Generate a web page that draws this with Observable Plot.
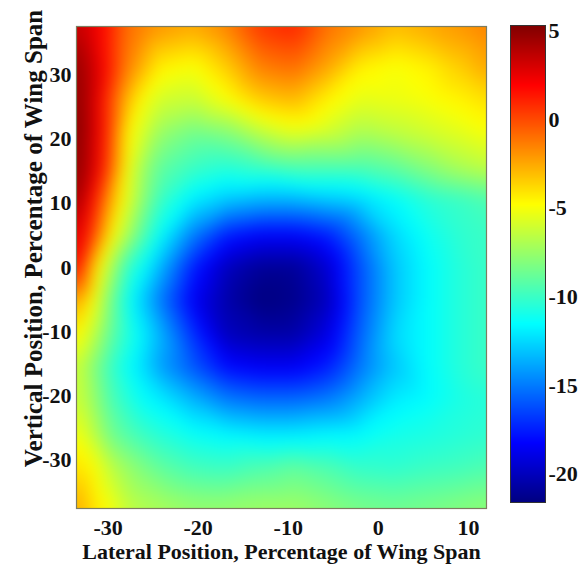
<!DOCTYPE html>
<html><head><meta charset="utf-8">
<script src="https://cdn.jsdelivr.net/npm/d3@7"></script>
<script src="https://cdn.jsdelivr.net/npm/@observablehq/plot@0.6"></script>
<style>
body{margin:0;background:#fff;}
#chart{position:relative;width:586px;height:574px;overflow:hidden;background:#fff;}
#main{position:absolute;left:0;top:0;}
#bar{position:absolute;left:486px;top:0;}
</style></head><body><div id="chart"><div id="main"></div><div id="bar"></div></div>
<script>
// sample positions
const xPos = [-33.5, -31.6, -29.7, -27.9, -26, -24.2, -20.5, -16.8, -13.1, -9.4, -5.7, -1.9, 1.8, 5.5, 9.2, 12];
const yPos = [37.5, 31, 26, 21, 15.5, 10.5, 5, 0, -5, -10.5, -15.5, -20.5, -26, -31, -37.5];
// values per row (top to bottom)
const rowY37 = [3.5, 2.5, 1, -1, -1.5, -2, -2.5, -1.5, 0.5, 1, -1, -2, -3, -2.5, -2, -1.5];
const rowY31 = [4.8, 3.2, 1, -1.5, -3, -4.5, -5, -3.5, -1.5, -1, -2.5, -4.5, -5, -4.5, -3.5, -2.5];
const rowY26 = [5, 3.2, 0, -3, -5, -6, -6.3, -5, -3.5, -3, -4.5, -5.5, -5.3, -5, -4.5, -4];
const rowY21 = [5.2, 3.2, 0, -4.5, -6, -7.5, -8.5, -8, -6.5, -5.5, -6, -7, -6.5, -6, -5.5, -5];
const rowY15 = [5, 3, -0.5, -5, -7.5, -9, -10, -10.5, -10, -9.5, -9.5, -9.5, -9, -8, -7, -6.5];
const rowY10 = [4.5, 1.5, -2.5, -5.5, -8, -10, -12, -13, -13.5, -13.5, -13, -12.5, -11.5, -10.5, -10, -9.5];
const rowY5 = [3, 0, -4.5, -7, -9.5, -11.5, -15, -17.5, -18.3, -18.3, -17.5, -15, -12.5, -11.2, -10.3, -10];
const rowY0 = [2, -3.5, -7, -10, -11.5, -13.5, -17.5, -20, -21, -21, -19.5, -16, -13, -11.5, -10.5, -10];
const rowYm5 = [-2, -5, -8.5, -11, -13, -15, -18.5, -20.5, -21.6, -21.3, -20, -16, -13, -11.5, -10.5, -10];
const rowYm10 = [-4.5, -6.5, -9, -10.5, -12, -13.5, -17, -20, -20.5, -20.5, -19, -15.5, -12.5, -11.5, -10.5, -10];
const rowYm15 = [-6, -8, -10, -11.3, -12.5, -14, -16, -18, -18.5, -18.5, -17.5, -15, -13, -11.5, -10.5, -10];
const rowYm20 = [-6, -7.5, -9.5, -10.5, -11.5, -12, -13.5, -15, -15.5, -15.5, -15, -13.5, -12, -11.5, -10.8, -10.5];
const rowYm26 = [-5, -6.5, -8.5, -9.3, -10, -10.5, -11.3, -11.7, -12, -12, -11.7, -11.5, -11, -10.8, -10.5, -10.3];
const rowYm31 = [-4, -4.8, -6.5, -7.5, -8.3, -9, -9.8, -10, -9.5, -9, -9.5, -10.2, -10.3, -10, -9.8, -9.5];
const rowYm37 = [-2.5, -4, -5, -6.3, -6.8, -7, -7.5, -7.5, -7.3, -7.3, -7.8, -8.3, -8.5, -8.3, -8, -7.8];
const rows = [rowY37, rowY31, rowY26, rowY21, rowY15, rowY10, rowY5, rowY0, rowYm5, rowYm10, rowYm15, rowYm20, rowYm26, rowYm31, rowYm37];

const xTicks = [-30, -20, -10, 0, 10];
const yTicks = [-30, -20, -10, 0, 10, 20, 30];
const barTicks = [-20, -15, -10, -5, 0, 5];
const colorMin = -21.6, colorMax = 5.3;
const jetColors = ["#000080", "#0000ff", "#00ffff", "#ffff00", "#ff0000", "#800000"];
const jetStops = [0, 0.125, 0.375, 0.625, 0.875, 1];
const xTitle = "Lateral Position, Percentage of Wing Span";
const yTitle = "Vertical Position, Percentage of Wing Span";

const points = rows.flatMap((r, i) => r.map((v, j) => ({x: xPos[j], y: yPos[i], v})));
const colorDomain = jetStops.map(t => colorMin + t * (colorMax - colorMin));
const font = "'Liberation Serif', 'Times New Roman', serif";
const colorOpts = {type: "linear", domain: colorDomain, range: jetColors, clamp: true};
const fmt = d => String(d);

const main = Plot.plot({
  width: 500, height: 574,
  marginLeft: 76, marginRight: 14, marginTop: 26, marginBottom: 66,
  style: {fontFamily: font, fontWeight: "bold", fontSize: "22px", background: "transparent", color: "#111"},
  x: {domain: [-33.5, 12], ticks: xTicks, tickFormat: fmt, tickSize: 0, tickPadding: 11, label: null},
  y: {domain: [-37.5, 37.5], ticks: yTicks, tickFormat: fmt, tickSize: 0, tickPadding: 5, label: null},
  color: colorOpts,
  marks: [
    Plot.raster(points, {x: "x", y: "y", fill: "v", interpolate: "barycentric", blur: 7}),
    Plot.frame({stroke: "#7d7d60", strokeWidth: 1.2}),
    Plot.text([xTitle], {text: d => d, frameAnchor: "bottom", textAnchor: "middle", dy: 50, fontSize: 22, fontWeight: "bold", fill: "#111"}),
    Plot.text([yTitle], {text: d => d, frameAnchor: "left", textAnchor: "middle", rotate: -90, dx: -43, dy: -29, fontSize: 25, fontWeight: "bold", fill: "#111"})
  ]
});
document.getElementById("main").appendChild(main);

const bar = Plot.plot({
  width: 100, height: 574,
  marginLeft: 24, marginRight: 41, marginTop: 25, marginBottom: 72,
  style: {fontFamily: font, fontWeight: "bold", fontSize: "22px", background: "transparent", color: "#111"},
  x: {domain: [0, 1], axis: null},
  y: {domain: [colorMin, colorMax], ticks: barTicks, tickFormat: fmt, tickSize: 0, tickPadding: 3, label: null, axis: "right"},
  color: colorOpts,
  marks: [
    Plot.raster({fill: (x, y) => y, x1: 0, x2: 1, y1: colorMin, y2: colorMax, pixelSize: 1}),
    Plot.frame({stroke: "#333", strokeWidth: 1})
  ]
});
document.getElementById("bar").appendChild(bar);
</script></body></html>
